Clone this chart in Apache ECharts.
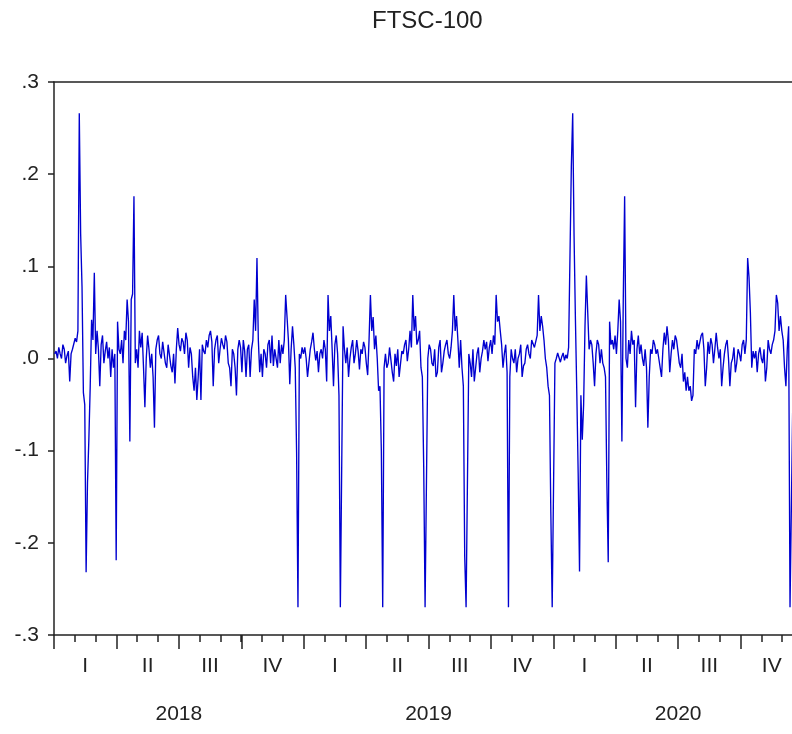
<!DOCTYPE html>
<html>
<head>
<meta charset="utf-8">
<script src="https://cdn.jsdelivr.net/npm/echarts@6/dist/echarts.min.js"></script>
<style>
html,body{margin:0;padding:0;background:#ffffff;}
#chart{width:792px;height:734px;}
</style>
</head>
<body>
<div id="chart"></div>
<script>
// ---- Chart text ----
const chartTitle = 'FTSC-100';
const yearLabels = ['2018', '2019', '2020'];
const quarterLabels = ['I', 'II', 'III', 'IV', 'I', 'II', 'III', 'IV', 'I', 'II', 'III', 'IV'];
const monthLabels = [
  'Jan 2018','Feb 2018','Mar 2018','Apr 2018','May 2018','Jun 2018','Jul 2018','Aug 2018','Sep 2018','Oct 2018','Nov 2018','Dec 2018',
  'Jan 2019','Feb 2019','Mar 2019','Apr 2019','May 2019','Jun 2019','Jul 2019','Aug 2019','Sep 2019','Oct 2019','Nov 2019','Dec 2019',
  'Jan 2020','Feb 2020','Mar 2020','Apr 2020','May 2020','Jun 2020','Jul 2020','Aug 2020','Sep 2020','Oct 2020','Nov 2020','Dec 2020'
];
const yMin = -0.3, yMax = 0.3, yStep = 0.1;

const values2018 = [
  0.005, 0.008, 0.0, 0.012, 0.005, 0.0, 0.015, 0.01, -0.005, 0.003,
  0.008, -0.025, 0.005, 0.01, 0.01, 0.022, 0.018, 0.03, 0.266, 0.135,
  0.078, -0.037, -0.05, -0.232, -0.135, -0.088, -0.03, 0.042, 0.02, 0.093,
  0.005, 0.03, 0.01, -0.03, 0.015, 0.025, -0.005, 0.008, 0.018, 0.0,
  0.012, -0.02, 0.01, -0.01, 0.005, -0.219, 0.04, 0.01, 0.005, 0.02,
  -0.005, 0.03, 0.02, 0.064, 0.04, -0.09, 0.064, 0.07, 0.176, -0.005,
  0.01, -0.01, 0.03, 0.012, 0.028, -0.01, -0.053, 0.0, 0.025, 0.01,
  -0.01, 0.005, -0.02, -0.075, 0.01, 0.02, 0.025, 0.005, 0.0, 0.018,
  0.02, -0.005, -0.01, 0.015, 0.015, -0.008, -0.015, 0.005, -0.027, 0.01,
  0.033, 0.015, 0.008, 0.022, 0.018, 0.005, 0.028, 0.02, -0.01, 0.012,
  0.005, -0.02, -0.035, -0.01, -0.045, -0.02, 0.01, -0.045, 0.015, 0.008,
  0.005, 0.02, 0.012, 0.025, 0.03, 0.018, -0.03, 0.01, 0.02, 0.025,
  -0.005, 0.01, 0.022, 0.015, 0.01, 0.025, 0.018, -0.005, -0.01, -0.03,
  0.01, 0.005, -0.01, -0.04, 0.01, 0.02, 0.012, -0.015, 0.02, 0.008,
  -0.02, 0.01, 0.015, -0.02, 0.01, 0.02, 0.064, 0.03, 0.109, 0.02,
  -0.015, 0.005, -0.02, 0.01, 0.005, -0.01, 0.015, 0.02, -0.005, 0.025,
  -0.008, 0.01, 0.012, -0.01, 0.02, -0.005, 0.015, 0.005, 0.02, 0.069,
  0.045, 0.02, -0.028, 0.01, 0.035, 0.015, -0.01, -0.102, -0.27, 0.005,
  0.0, 0.012
];
const values2019 = [
  0.005, 0.012, 0.0, -0.02, -0.005, 0.01, 0.018, 0.028, 0.01, -0.002,
  0.008, -0.015, 0.005, 0.01, 0.0, 0.02, 0.01, -0.025, 0.069, 0.03,
  0.046, 0.01, -0.03, 0.015, 0.025, 0.005, -0.04, -0.27, -0.27, 0.035,
  0.01, -0.005, 0.012, -0.02, 0.0, 0.012, 0.02, -0.005, 0.005, 0.02,
  0.008, -0.012, 0.01, 0.005, 0.018, 0.012, -0.005, -0.018, 0.02, 0.069,
  0.03, 0.045, 0.01, 0.025, 0.0, -0.035, -0.03, -0.1, -0.27, -0.01,
  0.005, -0.01, -0.005, 0.012, 0.01, -0.015, -0.025, 0.005, -0.008, 0.01,
  -0.02, -0.02, 0.008, 0.005, 0.015, 0.02, -0.003, 0.01, 0.03, 0.012,
  0.069, 0.03, 0.046, 0.015, 0.02, 0.03, -0.01, -0.02, -0.118, -0.27,
  -0.27, 0.0, 0.015, 0.01, -0.005, -0.008, 0.01, -0.02, -0.015, 0.012,
  0.02, -0.015, -0.005, 0.008, 0.015, 0.02, 0.005, 0.0, 0.012, 0.03,
  0.069, 0.03, 0.046, 0.02, -0.01, 0.02, -0.01, -0.03, -0.215, -0.27,
  -0.27, 0.005, -0.005, -0.02, 0.01, -0.025, -0.01, 0.005, 0.012, -0.015,
  0.0, 0.008, 0.02, 0.01, 0.018, -0.003, 0.012, 0.02, 0.005, 0.025,
  0.015, 0.069, 0.04, 0.046, 0.03, 0.015, -0.01, 0.005, 0.015, -0.015,
  -0.27, -0.02, 0.01, 0.0, -0.005, 0.01, -0.015, 0.0, 0.005, 0.015,
  -0.02, -0.008, -0.005, 0.01, 0.015, 0.005, 0.0, 0.02, 0.02, 0.012,
  0.01, 0.025, 0.069, 0.03, 0.046, 0.035, 0.02, 0.0, -0.01, -0.03,
  -0.04, -0.167, -0.27
];
const values2020 = [
  -0.27, -0.005, 0.0, 0.006, 0.004, -0.004, 0.002, 0.006, -0.002, 0.004,
  0.0, 0.012, 0.01, 0.208, 0.266, 0.133, 0.042, -0.037, -0.124, -0.231,
  -0.04, -0.088, -0.05, 0.035, 0.09, 0.088, 0.01, 0.02, 0.015, -0.005,
  -0.03, 0.005, 0.02, 0.015, -0.005, 0.01, -0.005, -0.01, -0.02, -0.135,
  -0.221, 0.04, 0.015, 0.02, 0.01, 0.025, 0.005, 0.03, 0.064, 0.04,
  -0.09, 0.064, 0.176, 0.0, -0.01, 0.02, 0.005, 0.03, 0.015, 0.02,
  -0.053, 0.01, 0.025, 0.005, 0.015, 0.0, -0.008, 0.01, -0.01, -0.075,
  -0.02, 0.01, 0.005, 0.02, 0.015, 0.005, 0.01, 0.0, -0.01, -0.02,
  0.01, 0.028, 0.015, 0.035, 0.02, -0.015, 0.005, 0.02, 0.01, 0.025,
  0.02, 0.008, -0.005, -0.01, 0.005, -0.025, -0.015, -0.035, -0.02, -0.035,
  -0.03, -0.046, -0.04, 0.01, 0.005, 0.02, 0.01, 0.012, 0.025, 0.028,
  0.01, -0.03, -0.01, 0.018, 0.005, 0.022, 0.015, -0.005, 0.01, 0.028,
  0.012, 0.0, 0.01, -0.03, -0.01, 0.005, 0.015, 0.02, 0.0, -0.03,
  -0.005, 0.0, 0.012, -0.015, -0.005, 0.01, 0.005, -0.003, 0.015, 0.02,
  0.005, 0.02, 0.109, 0.088, 0.05, -0.01, 0.008, 0.0, 0.008, -0.015,
  0.005, 0.012, 0.0, -0.005, 0.01, -0.025, -0.01, 0.02, 0.01, 0.005,
  0.015, 0.02, 0.03, 0.069, 0.06, 0.03, 0.046, 0.03, 0.02, -0.01,
  -0.03, 0.01, 0.035, -0.27, -0.27, -0.05, 0.0, 0.01, -0.005, 0.008,
  0.0, 0.012, 0.005
];

// ---- Build the series: x = days since 1 Jan 2018 ----
const firstDay = 1, stepDays = 2, totalDays = 1096;
const allValues = values2018.concat(values2019, values2020);
const seriesData = allValues.map((v, i) => [firstDay + stepDays * i, v]);

const FONT = 'Liberation Sans, Arial, sans-serif';
const INK = '#222222';
const axisLineStyle = { color: INK, width: 1.5 };

function yFmt(v) {
  if (Math.abs(v) < 1e-9) return '.0';
  const s = v.toFixed(1);
  return s.replace('0.', '.');
}

const chart = echarts.init(document.getElementById('chart'), null, { renderer: 'canvas' });
chart.setOption({
  animation: false,
  backgroundColor: '#ffffff',
  title: {
    text: chartTitle,
    left: 372,
    top: 9,
    padding: 0,
    textStyle: { fontFamily: FONT, fontSize: 24, fontWeight: 'normal', color: INK }
  },
  grid: { left: 54, right: -11, top: 82, bottom: 99, containLabel: false, outerBoundsMode: 'none' },
  xAxis: [
    { type: 'value', min: 0, max: totalDays, show: false },
    {
      type: 'category', position: 'bottom', data: monthLabels, boundaryGap: true,
      axisLine: { show: true, onZero: false, lineStyle: axisLineStyle },
      axisTick: { show: true, interval: 0, length: 7, inside: false, lineStyle: axisLineStyle },
      axisLabel: { show: false }, splitLine: { show: false }
    },
    {
      type: 'category', position: 'bottom', data: quarterLabels, boundaryGap: true,
      axisLine: { show: false, onZero: false },
      axisTick: { show: true, interval: 0, length: 14, inside: false, lineStyle: axisLineStyle },
      axisLabel: { show: true, interval: 0, margin: 21, fontFamily: FONT, fontSize: 21, color: INK, hideOverlap: false },
      splitLine: { show: false }
    },
    {
      type: 'category', position: 'bottom', data: yearLabels, boundaryGap: true,
      axisLine: { show: false, onZero: false },
      axisTick: { show: false },
      axisLabel: { show: true, interval: 0, margin: 69, fontFamily: FONT, fontSize: 21, color: INK, hideOverlap: false },
      splitLine: { show: false }
    },
    {
      type: 'category', position: 'top', data: ['top'],
      axisLine: { show: true, onZero: false, lineStyle: axisLineStyle },
      axisTick: { show: false }, axisLabel: { show: false }, splitLine: { show: false }
    }
  ],
  yAxis: [{
    type: 'value', min: yMin, max: yMax, interval: yStep,
    axisLine: { show: true, onZero: false, lineStyle: axisLineStyle },
    axisTick: { show: true, length: 6, inside: false, lineStyle: axisLineStyle },
    axisLabel: { show: true, margin: 15, fontFamily: FONT, fontSize: 21, color: INK, formatter: yFmt },
    splitLine: { show: false }
  }],
  series: [{
    type: 'line',
    xAxisIndex: 0,
    yAxisIndex: 0,
    data: seriesData,
    showSymbol: false,
    symbol: 'none',
    smooth: false,
    clip: true,
    sampling: null,
    lineStyle: { color: '#0000d0', width: 1.35 },
    emphasis: { disabled: true }
  }]
});
</script>
</body>
</html>
